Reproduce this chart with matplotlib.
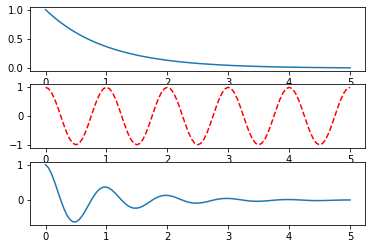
import matplotlib
matplotlib.use("Agg")
import matplotlib.pyplot as plt

t = [0.00, 0.05, 0.10, 0.15, 0.20, 0.25, 0.30, 0.35, 0.40, 0.45,
     0.50, 0.55, 0.60, 0.65, 0.70, 0.75, 0.80, 0.85, 0.90, 0.95,
     1.00, 1.05, 1.10, 1.15, 1.20, 1.25, 1.30, 1.35, 1.40, 1.45,
     1.50, 1.55, 1.60, 1.65, 1.70, 1.75, 1.80, 1.85, 1.90, 1.95,
     2.00, 2.05, 2.10, 2.15, 2.20, 2.25, 2.30, 2.35, 2.40, 2.45,
     2.50, 2.55, 2.60, 2.65, 2.70, 2.75, 2.80, 2.85, 2.90, 2.95,
     3.00, 3.05, 3.10, 3.15, 3.20, 3.25, 3.30, 3.35, 3.40, 3.45,
     3.50, 3.55, 3.60, 3.65, 3.70, 3.75, 3.80, 3.85, 3.90, 3.95,
     4.00, 4.05, 4.10, 4.15, 4.20, 4.25, 4.30, 4.35, 4.40, 4.45,
     4.50, 4.55, 4.60, 4.65, 4.70, 4.75, 4.80, 4.85, 4.90, 4.95,
     5.00]

decay = [1.000, 0.951, 0.905, 0.861, 0.819, 0.779, 0.741, 0.705, 0.670, 0.638,
         0.607, 0.577, 0.549, 0.522, 0.497, 0.472, 0.449, 0.427, 0.407, 0.387,
         0.368, 0.350, 0.333, 0.317, 0.301, 0.287, 0.273, 0.259, 0.247, 0.235,
         0.223, 0.212, 0.202, 0.192, 0.183, 0.174, 0.165, 0.157, 0.150, 0.142,
         0.135, 0.129, 0.122, 0.116, 0.111, 0.105, 0.100, 0.095, 0.091, 0.086,
         0.082, 0.078, 0.074, 0.071, 0.067, 0.064, 0.061, 0.058, 0.055, 0.052,
         0.050, 0.047, 0.045, 0.043, 0.041, 0.039, 0.037, 0.035, 0.033, 0.032,
         0.030, 0.029, 0.027, 0.026, 0.025, 0.024, 0.022, 0.021, 0.020, 0.019,
         0.018, 0.017, 0.017, 0.016, 0.015, 0.014, 0.014, 0.013, 0.012, 0.012,
         0.011, 0.011, 0.010, 0.010, 0.009, 0.009, 0.008, 0.008, 0.007, 0.007,
         0.007]

wave = [1.000, 0.951, 0.809, 0.588, 0.309, 0.000, -0.309, -0.588, -0.809, -0.951,
        -1.000, -0.951, -0.809, -0.588, -0.309, 0.000, 0.309, 0.588, 0.809, 0.951,
        1.000, 0.951, 0.809, 0.588, 0.309, 0.000, -0.309, -0.588, -0.809, -0.951,
        -1.000, -0.951, -0.809, -0.588, -0.309, 0.000, 0.309, 0.588, 0.809, 0.951,
        1.000, 0.951, 0.809, 0.588, 0.309, 0.000, -0.309, -0.588, -0.809, -0.951,
        -1.000, -0.951, -0.809, -0.588, -0.309, 0.000, 0.309, 0.588, 0.809, 0.951,
        1.000, 0.951, 0.809, 0.588, 0.309, 0.000, -0.309, -0.588, -0.809, -0.951,
        -1.000, -0.951, -0.809, -0.588, -0.309, 0.000, 0.309, 0.588, 0.809, 0.951,
        1.000, 0.951, 0.809, 0.588, 0.309, 0.000, -0.309, -0.588, -0.809, -0.951,
        -1.000, -0.951, -0.809, -0.588, -0.309, 0.000, 0.309, 0.588, 0.809, 0.951,
        1.000]

damped = [1.000, 0.904, 0.732, 0.506, 0.253, 0.000, -0.229, -0.415, -0.542, -0.607,
          -0.607, -0.549, -0.444, -0.307, -0.154, 0.000, 0.139, 0.251, 0.329, 0.368,
          0.368, 0.333, 0.269, 0.186, 0.093, 0.000, -0.084, -0.152, -0.200, -0.223,
          -0.223, -0.202, -0.163, -0.113, -0.057, 0.000, 0.051, 0.092, 0.121, 0.135,
          0.135, 0.123, 0.099, 0.068, 0.034, 0.000, -0.031, -0.056, -0.074, -0.082,
          -0.082, -0.074, -0.060, -0.042, -0.021, 0.000, 0.019, 0.034, 0.045, 0.049,
          0.050, 0.045, 0.036, 0.025, 0.013, 0.000, -0.011, -0.021, -0.027, -0.030,
          -0.030, -0.028, -0.022, -0.015, -0.008, 0.000, 0.007, 0.012, 0.016, 0.018,
          0.018, 0.016, 0.014, 0.009, 0.005, 0.000, -0.004, -0.008, -0.010, -0.011,
          -0.011, -0.010, -0.008, -0.006, -0.003, 0.000, 0.002, 0.005, 0.006, 0.007,
          0.007]

plt.rcParams['font.size'] = 10
fig = plt.figure(figsize=(372 / 72, 249 / 72), dpi=72)

left, width = 0.0815, 0.9005
ax1 = fig.add_axes([left, 0.716, width, 0.257])
ax1.plot(t, decay, color='#1f77b4', linewidth=1.5)

ax2 = fig.add_axes([left, 0.407, width, 0.254])
ax2.plot(t, wave, color='red', linestyle='--', linewidth=1.5)

ax3 = fig.add_axes([left, 0.0976, width, 0.253])
ax3.plot(t, damped, color='#1f77b4', linewidth=1.5)

for ax in (ax1, ax2, ax3):
    ax.set_xticks([0, 1, 2, 3, 4, 5])
ax1.set_yticks([0.0, 0.5, 1.0])
ax2.set_yticks([-1, 0, 1])
ax3.set_yticks([0, 1])

fig.savefig("out.png", dpi=72)
